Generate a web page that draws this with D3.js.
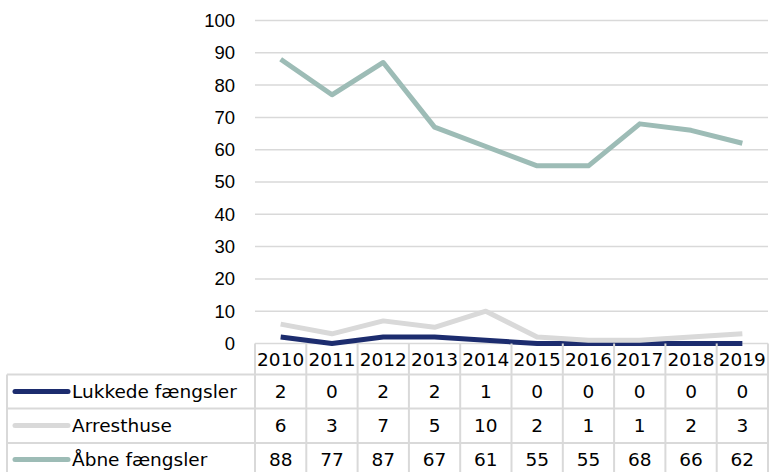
<!DOCTYPE html>
<html><head><meta charset="utf-8">
<script src="https://cdn.jsdelivr.net/npm/d3@7"></script>
<style>body{margin:0;background:#fff}svg{display:block}</style>
</head><body><svg id="c" width="769" height="472"></svg>
<script>
const years = ["2010","2011","2012","2013","2014","2015","2016","2017","2018","2019"];
const seriesNames = ["Lukkede fængsler","Arresthuse","Åbne fængsler"];
const lukkede = [2,0,2,2,1,0,0,0,0,0];
const arresthuse = [6,3,7,5,10,2,1,1,2,3];
const aabne = [88,77,87,67,61,55,55,68,66,62];
const yTicks = [0,10,20,30,40,50,60,70,80,90,100];
const colors = ["#1c2c6e","#d9d9d9","#9dbcb6"];

(function(){
const series = [lukkede, arresthuse, aabne];
const svg = d3.select("#c");
const pLeft = 255, pRight = 768, pTop = 20.5, pBottom = 343.5;
const x = d3.scaleBand().domain(years).range([pLeft,pRight]);
const y = d3.scaleLinear().domain([0,100]).range([pBottom, pTop]);

svg.append("g").selectAll("line").data(yTicks).join("line")
  .attr("x1", pLeft).attr("x2", pRight)
  .attr("y1", d=>y(d)).attr("y2", d=>y(d))
  .attr("stroke","#d9d9d9").attr("stroke-width",1.5);

svg.append("g").selectAll("text").data(yTicks).join("text")
  .attr("x", 235).attr("y", d=>y(d)).attr("dy","0.35em")
  .attr("text-anchor","end")
  .attr("font-family","Liberation Sans, Arial, sans-serif")
  .attr("font-size","18.5px").attr("fill","#000")
  .text(d=>d);

const line = d3.line().x((d,i)=>x(years[i])+x.bandwidth()/2).y(d=>y(d));
svg.append("g").selectAll("path").data(series).join("path")
  .attr("d", d=>line(d)).attr("fill","none")
  .attr("stroke",(d,i)=>colors[i]).attr("stroke-width",5)
  .attr("stroke-linejoin","round").attr("stroke-linecap","butt");

const tcol = "#d9d9d9";
const tg = svg.append("g");
const colEdges = years.map(d=>x(d)).concat([pRight]);
tg.selectAll("line.v").data(colEdges).join("line").attr("class","v")
  .attr("x1",d=>d).attr("x2",d=>d).attr("y1",343.5).attr("y2",480)
  .attr("stroke",tcol).attr("stroke-width",2);
tg.append("line").attr("x1",7).attr("x2",7).attr("y1",374.5).attr("y2",480)
  .attr("stroke",tcol).attr("stroke-width",2);
tg.selectAll("line.h").data([374.5,408.5,443]).join("line").attr("class","h")
  .attr("x1",7).attr("x2",pRight).attr("y1",d=>d).attr("y2",d=>d)
  .attr("stroke",tcol).attr("stroke-width",2);

const font = "DejaVu Sans, Verdana, sans-serif";
tg.selectAll("text.yr").data(years).join("text").attr("class","yr")
  .attr("x",d=>x(d)+x.bandwidth()/2).attr("y",359.5).attr("dy","0.35em")
  .attr("text-anchor","middle").attr("font-family",font).attr("font-size","18.5px")
  .text(d=>d);

const rowCenters = [391.5, 425.5, 459.5];
series.forEach((s,si)=>{
  const g = tg.append("g");
  g.append("line").attr("x1",15).attr("x2",68).attr("y1",rowCenters[si]).attr("y2",rowCenters[si])
    .attr("stroke",colors[si]).attr("stroke-width",5).attr("stroke-linecap","round");
  g.append("text").attr("x",72).attr("y",rowCenters[si]).attr("dy","0.35em")
    .attr("font-family",font).attr("font-size","18.5px").text(seriesNames[si]);
  g.selectAll("text.v").data(s).join("text").attr("class","v")
    .attr("x",(d,i)=>x(years[i])+x.bandwidth()/2).attr("y",rowCenters[si]).attr("dy","0.35em")
    .attr("text-anchor","middle").attr("font-family",font).attr("font-size","18.5px")
    .text(d=>d);
});
})();
</script></body></html>
